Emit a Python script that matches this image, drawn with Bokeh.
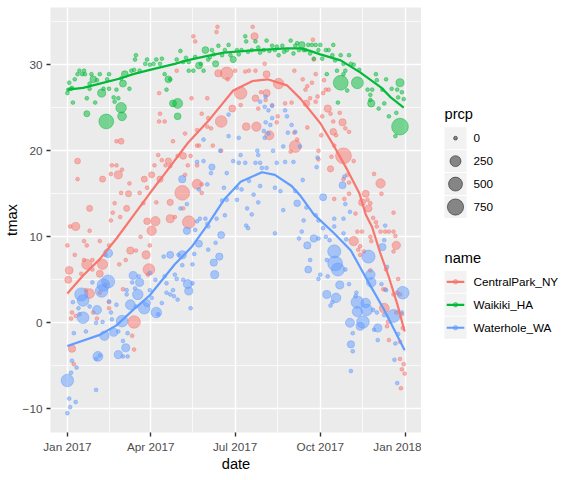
import numpy as np

from bokeh.plotting import figure
from bokeh.models import ColumnDataSource, Range1d, FixedTicker, DatetimeTickFormatter
from bokeh.layouts import row
from bokeh.core.properties import value
from bokeh.embed import file_html
from bokeh.resources import INLINE

# ---- data ----
# day = days since 2017-01-01, tmax in deg C, prcp in tenths of mm
start_date = "2017-01-01"

cp_day = [100, 99, 99, 105, 114, 53, 58, 11, 11, 48,
          53, 55, 59, 47, 38, 67, 58, 66, 78, 83,
          86, 91, 94, 98, 102, 106, 109, 111, 100, 96,
          111, 82, 51, 24, 49, 64, 3, 9, 24, 57,
          47, 86, 95, 91, 79, 111, 0, 8, 18, 21,
          35, 45, 68, 74, 85, 89, 18, 21, 27, 38,
          27, 56, 63, 2, 1, 15, 35, 88, 87, 20,
          24, 41, 35, 60, 45, 72, 5, 9, 4, 28,
          32, 45, 70, 72, 5, 7, 136, 138, 162, 161,
          200, 202, 118, 134, 151, 163, 172, 173, 181, 187,
          192, 196, 203, 213, 215, 228, 203, 209, 215, 214,
          221, 206, 178, 187, 235, 242, 245, 145, 151, 152,
          140, 166, 155, 193, 204, 218, 226, 227, 245, 246,
          241, 248, 127, 140, 142, 157, 166, 133, 125, 119,
          130, 127, 140, 140, 145, 145, 124, 125, 131, 116,
          265, 266, 259, 264, 268, 254, 257, 268, 277, 279,
          282, 276, 270, 281, 258, 262, 294, 275, 284, 287,
          297, 300, 304, 287, 290, 274, 259, 271, 288, 298,
          309, 285, 284, 302, 298, 271, 331, 338, 339, 304,
          299, 288, 322, 324, 327, 318, 325, 352, 304, 311,
          330, 333, 334, 338, 343, 347, 352, 354, 327, 313,
          318, 309, 316, 328, 355, 352, 314, 316, 320, 327,
          344, 357, 341, 343, 356, 359, 352, 342, 355, 361,
          362, 346, 345, 347, 359, 359, 363, 361, 364, 360]
cp_tmax = [24.3, 26.7, 23.4, 23.4, 21.1, 21.1, 21.1, 18.8, 16.7, 18.3,
           18.3, 17.2, 17.8, 17.3, 16.7, 16.2, 15.1, 15.0, 15.1, 16.7,
           15.7, 17.2, 18.3, 19.5, 18.9, 18.3, 18.8, 18.2, 16.7, 14.0,
           14.0, 13.9, 13.9, 13.3, 12.8, 13.3, 11.2, 11.2, 10.7, 12.3,
           11.9, 11.8, 11.8, 10.7, 10.0, 12.1, 9.0, 7.9, 9.5, 9.0,
           9.5, 9.0, 8.4, 8.4, 7.9, 9.0, 7.3, 6.8, 7.3, 6.8,
           6.2, 6.8, 7.3, 6.1, 5.0, 5.7, 5.7, 6.2, 5.6, 3.8,
           3.4, 4.4, 3.5, 3.9, 2.4, 0.1, 1.2, 0.8, 0.5, 1.2,
           0.5, 1.7, -1.5, -3.1, -3.0, -4.8, 33.3, 32.7, 34.4, 33.8,
           34.4, 33.3, 29.3, 26.1, 26.1, 29.0, 29.0, 28.3, 29.3, 26.7,
           29.2, 29.3, 29.3, 30.1, 28.9, 27.8, 26.1, 26.8, 26.7, 25.9,
           25.3, 24.9, 24.9, 25.3, 25.5, 25.6, 29.3, 24.3, 22.8, 23.8,
           22.4, 23.4, 22.6, 22.8, 22.8, 21.8, 23.3, 24.0, 22.1, 20.5,
           19.9, 21.3, 22.0, 20.6, 20.6, 20.6, 20.0, 19.4, 19.4, 19.4,
           18.3, 17.2, 18.3, 16.1, 16.1, 15.1, 15.1, 13.3, 11.7, 12.3,
           32.9, 30.6, 27.5, 27.9, 28.9, 28.3, 27.1, 25.7, 28.2, 27.1,
           27.1, 26.7, 26.3, 24.9, 25.5, 26.1, 24.4, 24.0, 24.3, 23.4,
           23.3, 22.6, 22.2, 22.2, 21.8, 21.8, 22.7, 20.0, 20.6, 19.4,
           18.8, 19.3, 17.9, 17.2, 16.7, 19.0, 17.3, 16.2, 15.0, 15.0,
           14.4, 14.4, 15.0, 14.3, 13.9, 14.0, 13.3, 12.8, 16.3, 12.7,
           12.2, 11.7, 11.2, 10.6, 10.6, 10.6, 10.6, 10.1, 10.0, 10.6,
           10.6, 9.5, 8.9, 9.5, 9.0, 8.3, 8.5, 7.9, 8.3, 6.1,
           6.2, 5.1, 3.9, 3.9, 3.5, 3.3, 3.3, 1.7, 1.2, 1.0,
           -0.6, 0.1, -0.4, -2.0, -2.2, -4.2, -4.8, -5.4, -5.9, -7.6]
cp_prcp = [0, 0, 0, 0, 0, 0, 20, 20, 0, 0,
           0, 90, 0, 0, 25, 0, 0, 25, 0, 25,
           0, 25, 0, 0, 0, 0, 30, 0, 30, 0,
           30, 0, 0, 25, 0, 25, 0, 90, 0, 0,
           0, 40, 150, 150, 0, 90, 0, 0, 0, 0,
           0, 0, 60, 0, 90, 0, 0, 200, 0, 200,
           0, 0, 0, 80, 50, 0, 50, 300, 0, 0,
           170, 0, 0, 0, 0, 370, 0, 0, 0, 0,
           0, 0, 0, 0, 60, 0, 0, 0, 0, 0,
           0, 60, 0, 0, 0, 60, 370, 0, 0, 370,
           0, 0, 0, 0, 50, 220, 40, 0, 60, 0,
           0, 0, 50, 0, 0, 0, 0, 0, 0, 0,
           0, 300, 0, 70, 150, 140, 0, 0, 0, 320,
           0, 0, 0, 0, 0, 0, 0, 0, 40, 0,
           0, 0, 0, 180, 0, 0, 585, 0, 380, 0,
           0, 0, 0, 0, 0, 0, 0, 0, 0, 0,
           0, 0, 0, 60, 40, 0, 0, 0, 0, 0,
           60, 0, 0, 40, 0, 0, 0, 0, 0, 700,
           0, 0, 30, 0, 0, 0, 0, 150, 0, 0,
           0, 0, 50, 0, 0, 50, 50, 0, 0, 0,
           0, 0, 0, 0, 0, 0, 0, 0, 0, 0,
           0, 150, 0, 0, 100, 0, 0, 0, 0, 0,
           0, 0, 0, 0, 0, 0, 0, 180, 0, 0,
           0, 0, 0, 0, 0, 0, 0, 0, 0, 0]

wk_day = [0, 2, 4, 8, 6, 11, 13, 16, 18, 19,
          21, 21, 24, 24, 26, 28, 30, 32, 35, 37,
          39, 42, 43, 45, 45, 50, 51, 53, 55, 58,
          59, 58, 60, 62, 67, 69, 72, 74, 73, 78,
          84, 86, 89, 93, 96, 100, 102, 105, 107, 109,
          111, 114, 1, 5, 118, 122, 125, 131, 131, 136,
          142, 147, 149, 144, 152, 156, 160, 163, 167, 170,
          174, 179, 183, 188, 192, 193, 199, 203, 206, 212,
          215, 221, 224, 228, 232, 237, 241, 246, 250, 119,
          119, 128, 138, 154, 158, 176, 185, 195, 208, 218,
          226, 234, 244, 248, 253, 255, 260, 264, 268, 273,
          257, 262, 271, 279, 282, 287, 286, 266, 275, 295,
          304, 289, 298, 306, 309, 291, 300, 315, 298, 280,
          295, 313, 333, 334, 344, 359, 324, 329, 340, 350,
          356, 361, 327, 327, 328, 336, 342, 347, 355, 359,
          354, 363, 357, 292, 302]
wk_tmax = [26.7, 27.9, 27.2, 28.3, 25.6, 28.9, 29.3, 28.9, 29.3, 28.9,
           26.1, 24.3, 27.8, 27.2, 28.9, 28.3, 25.6, 28.2, 28.9, 26.7,
           27.2, 23.4, 28.3, 28.9, 27.2, 26.2, 25.7, 27.1, 26.1, 25.0,
           24.0, 28.4, 27.8, 28.9, 27.2, 29.3, 29.4, 31.1, 30.6, 29.3,
           30.1, 30.6, 30.0, 30.1, 30.6, 30.1, 30.7, 28.9, 27.1, 28.3,
           28.3, 25.5, 27.1, 27.3, 30.6, 31.6, 30.3, 30.3, 29.3, 29.3,
           29.9, 29.3, 31.7, 30.1, 30.6, 31.7, 30.1, 32.2, 31.1, 31.7,
           32.3, 30.6, 31.7, 31.7, 33.3, 32.7, 31.7, 32.7, 32.0, 31.7,
           32.8, 32.2, 31.7, 31.1, 32.2, 31.7, 32.8, 32.2, 31.7, 25.5,
           24.0, 30.8, 30.9, 30.9, 31.2, 31.1, 31.2, 31.5, 31.4, 31.6,
           32.1, 31.5, 31.3, 32.5, 32.3, 31.7, 32.3, 32.3, 32.3, 32.3,
           31.7, 31.3, 31.7, 31.7, 31.7, 32.3, 31.1, 30.7, 30.7, 31.1,
           31.1, 30.5, 30.1, 30.1, 30.0, 29.3, 29.3, 29.4, 28.9, 28.9,
           27.9, 27.9, 28.9, 28.2, 28.3, 27.9, 27.1, 27.1, 27.1, 27.2,
           27.1, 26.8, 26.5, 25.9, 25.5, 24.9, 25.5, 24.0, 24.4, 22.8,
           21.7, 26.0, 26.2, 25.6, 27.0]
wk_prcp = [0, 0, 0, 0, 0, 0, 0, 0, 0, 0,
           0, 25, 0, 0, 0, 44, 0, 0, 0, 90,
           0, 585, 0, 0, 0, 0, 0, 0, 0, 220,
           120, 0, 50, 44, 0, 0, 0, 0, 0, 0,
           0, 0, 0, 0, 0, 0, 0, 0, 0, 44,
           0, 50, 0, 0, 0, 0, 0, 0, 0, 0,
           44, 0, 44, 0, 0, 0, 30, 0, 0, 0,
           0, 30, 0, 0, 0, 0, 0, 0, 0, 0,
           0, 0, 0, 0, 0, 0, 0, 0, 0, 185,
           44, 0, 0, 0, 0, 0, 0, 0, 0, 0,
           0, 0, 0, 0, 40, 0, 0, 0, 0, 0,
           0, 0, 0, 0, 0, 0, 0, 0, 0, 0,
           0, 0, 0, 0, 0, 0, 0, 0, 0, 0,
           585, 320, 0, 0, 0, 90, 0, 0, 0, 0,
           0, 0, 0, 0, 60, 0, 0, 0, 0, 820,
           0, 0, 0, 0, 0]

wh_day = [44, 41, 71, 78, 70, 64, 73, 77, 76, 89,
          89, 95, 104, 105, 111, 107, 111, 114, 44, 37,
          39, 15, 17, 27, 6, 12, 17, 13, 24, 32,
          31, 38, 45, 47, 48, 53, 59, 64, 68, 74,
          83, 86, 96, 98, 91, 102, 107, 115, 7, 20,
          40, 50, 55, 60, 65, 33, 35, 31, 55, 63,
          65, 60, 5, 10, 0, 4, 31, 2, 9, 3,
          0, 214, 208, 213, 217, 221, 221, 214, 219, 212,
          217, 213, 174, 235, 237, 242, 246, 238, 233, 174,
          185, 147, 165, 205, 206, 187, 222, 124, 140, 147,
          156, 155, 172, 179, 185, 192, 203, 208, 210, 215,
          226, 235, 244, 142, 151, 169, 183, 188, 196, 208,
          224, 230, 246, 122, 129, 167, 172, 183, 194, 201,
          206, 233, 248, 143, 149, 140, 129, 138, 151, 152,
          161, 170, 166, 142, 160, 152, 137, 124, 120, 124,
          135, 164, 158, 159, 116, 118, 125, 130, 135, 131,
          119, 133, 193, 195, 199, 224, 250, 251, 270, 269,
          254, 297, 299, 276, 258, 300, 305, 255, 271, 268,
          288, 298, 288, 276, 253, 266, 259, 271, 279, 283,
          298, 301, 288, 289, 292, 280, 262, 260, 273, 271,
          281, 300, 294, 304, 325, 327, 328, 339, 344, 342,
          343, 340, 345, 280, 290, 286, 284, 313, 311, 322,
          312, 323, 313, 319, 330, 334, 352, 362, 361, 305,
          316, 331, 335, 342, 357, 308, 354, 335, 306, 308,
          353, 306, 356]
wh_tmax = [8.1, 7.9, 5.5, 4.7, 4.7, 3.8, 4.0, 5.4, 3.3, 5.8,
           3.8, 5.0, 7.7, 5.4, 7.9, 4.6, 3.3, 3.8, 4.8, 3.7,
           4.4, 3.3, 2.6, 4.7, 2.4, 1.7, 0.6, 1.0, 1.9, 1.5,
           0.0, 0.1, 2.5, 1.2, 0.4, 2.1, 0.2, 3.3, 2.1, 1.9,
           1.7, 2.3, 1.2, 1.0, 2.9, 2.3, 3.5, 3.1, -1.2, -1.0,
           -1.5, -1.1, -1.0, -2.1, -1.2, -3.9, -3.8, -4.2, -3.7, -2.9,
           -3.9, -3.9, -4.4, -5.2, -6.7, -5.8, -7.8, -8.8, -9.2, -9.8,
           -10.5, 26.3, 25.7, 25.1, 24.7, 25.2, 23.8, 23.3, 23.0, 22.3,
           22.0, 21.5, 24.2, 24.7, 24.0, 23.0, 22.2, 22.1, 20.5, 21.7,
           21.5, 21.3, 20.0, 20.0, 19.5, 19.5, 20.0, 16.7, 18.7, 18.8,
           18.1, 17.4, 17.4, 18.8, 18.6, 18.6, 18.6, 18.6, 18.0, 18.0,
           18.6, 18.7, 18.7, 15.5, 16.1, 15.7, 15.7, 15.5, 16.5, 15.9,
           15.7, 15.3, 15.3, 13.3, 13.8, 14.2, 14.3, 14.3, 13.3, 14.9,
           14.0, 13.1, 13.9, 12.1, 12.1, 11.8, 10.7, 10.8, 11.5, 11.2,
           12.1, 12.5, 10.2, 9.2, 9.3, 8.5, 8.0, 7.9, 7.9, 6.7,
           6.8, 7.7, 7.0, 5.6, 5.6, 5.1, 5.0, 4.5, 4.6, 3.7,
           2.7, 1.7, 11.3, 11.0, 12.6, 10.4, 9.8, 20.5, 19.2, 18.1,
           16.6, 16.0, 17.0, 14.6, 13.4, 13.8, 12.9, 11.9, 11.9, 12.5,
           12.1, 12.1, 11.2, 11.0, 10.6, 9.8, 9.0, 9.8, 10.0, 9.6,
           10.4, 9.7, 8.3, 6.9, 6.2, 7.3, 7.3, 6.2, 5.6, 5.1,
           5.4, 6.2, 4.4, 4.5, 7.7, 5.6, 4.7, 4.5, 3.8, 9.6,
           11.3, 8.8, 6.5, 3.3, 2.9, 2.4, 2.0, 2.4, 3.1, 2.3,
           3.5, 1.5, 1.3, 0.1, 1.5, 1.2, 0.8, 3.5, 1.2, 0.0,
           -0.4, -0.8, -0.6, 0.9, -1.3, -1.2, -2.4, -2.0, -2.5, -3.3,
           -4.3, -5.6, -7.0]
wh_prcp = [130, 0, 90, 90, 0, 0, 0, 0, 220, 0,
           0, 0, 0, 0, 50, 0, 0, 0, 420, 370,
           370, 420, 300, 0, 0, 0, 300, 0, 0, 130,
           0, 0, 0, 0, 0, 0, 300, 0, 180, 0,
           300, 60, 220, 0, 0, 0, 0, 0, 0, 0,
           160, 90, 0, 0, 0, 180, 0, 0, 90, 90,
           0, 0, 0, 0, 370, 0, 0, 0, 0, 0,
           0, 0, 0, 0, 0, 0, 0, 0, 0, 0,
           0, 0, 0, 0, 0, 0, 0, 0, 0, 0,
           0, 0, 0, 0, 0, 0, 0, 60, 0, 0,
           30, 0, 0, 0, 0, 0, 0, 0, 0, 0,
           0, 0, 0, 0, 0, 0, 0, 0, 0, 0,
           0, 0, 0, 0, 0, 0, 0, 0, 0, 0,
           0, 0, 40, 0, 0, 0, 60, 0, 0, 0,
           0, 0, 50, 50, 0, 0, 0, 90, 0, 0,
           0, 60, 60, 90, 0, 0, 0, 130, 0, 90,
           0, 0, 0, 0, 0, 0, 0, 0, 0, 0,
           0, 50, 0, 50, 0, 0, 0, 0, 0, 0,
           0, 0, 0, 0, 0, 60, 60, 0, 0, 0,
           0, 0, 420, 585, 420, 0, 0, 50, 0, 0,
           0, 0, 90, 0, 420, 160, 160, 0, 0, 0,
           0, 60, 0, 90, 160, 0, 0, 370, 0, 160,
           0, 300, 200, 370, 0, 0, 420, 370, 0, 130,
           90, 0, 90, 0, 0, 0, 0, 0, 60, 0,
           0, 0, 0]

# smooth curves (as drawn in the reference)
cp_smooth_day = [0, 17, 35, 53, 75, 90, 107, 130, 154, 179, 200, 216,
                 237, 252, 273, 288, 302, 315, 322, 329, 338, 347, 356, 364]
cp_smooth = [3.4, 5.5, 7.4, 9.8, 13.0, 15.2, 17.6, 20.9, 23.7, 27.0, 28.1, 28.3,
             27.6, 26.0, 23.2, 20.5, 17.8, 15.1, 12.6, 11.1, 8.0, 5.3, 2.2, -1.0]
wk_smooth_day = [0, 17, 35, 57, 71, 89, 116, 129, 150, 169,
                 205, 237, 252, 262, 273, 295, 316, 338, 349, 363]
wk_smooth = [27.1, 27.3, 27.8, 28.4, 28.9, 29.4, 30.1, 30.5, 31.0, 31.4,
             31.7, 31.9, 31.9, 31.6, 31.2, 30.5, 29.1, 27.4, 26.2, 25.0]
wh_smooth_day = [0, 35, 53, 71, 89, 116, 134, 152, 169, 187,
                 210, 224, 242, 252, 266, 287, 306, 324, 342, 364]
wh_smooth = [-2.7, -1.4, -0.3, 1.5, 3.2, 6.8, 8.8, 11.5, 14.3, 16.4,
             17.5, 17.2, 15.9, 14.7, 12.6, 10.5, 8.4, 4.9, 1.5, -3.2]

names = ["CentralPark_NY", "Waikiki_HA", "Waterhole_WA"]
colors = ["#F8766D", "#00BA38", "#619CFF"]

x_tick_dates = ["2017-01-01", "2017-04-01", "2017-07-01", "2017-10-01", "2018-01-01"]
x_tick_labels_fmt = "%b %Y"
y_ticks = [-10, 0, 10, 20, 30]
prcp_breaks = [0, 250, 500, 750]

FONT = "Liberation Sans"
DAY_MS = 86400000.0
ms0 = (np.datetime64(start_date) - np.datetime64("1970-01-01")) / np.timedelta64(1, "ms")


def day_to_ms(days):
    return ms0 + np.asarray(days, dtype=float) * DAY_MS


def date_to_ms(d):
    return (np.datetime64(d) - np.datetime64("1970-01-01")) / np.timedelta64(1, "ms")


# area scale for point size (like scale_size)
D_MIN, D_MAX, P_MAX = 3.8, 18.0, 980.0


def prcp_size(p):
    return D_MIN + (D_MAX - D_MIN) * np.sqrt(np.asarray(p, dtype=float) / P_MAX)


stations = [
    (cp_day, cp_tmax, cp_prcp, cp_smooth_day, cp_smooth),
    (wk_day, wk_tmax, wk_prcp, wk_smooth_day, wk_smooth),
    (wh_day, wh_tmax, wh_prcp, wh_smooth_day, wh_smooth),
]

# ranges with ggplot's 5% expansion
all_days = np.concatenate([np.asarray(s[0], float) for s in stations])
all_t = np.concatenate([np.asarray(s[1], float) for s in stations])
dx = (all_days.max() - all_days.min()) * 0.05
dy = (all_t.max() - all_t.min()) * 0.05
x_range = Range1d(day_to_ms(all_days.min() - dx), day_to_ms(all_days.max() + dx))
y_range = Range1d(all_t.min() - dy, all_t.max() + dy)

# ticks and minor (grid) ticks at midpoints
x_major = [date_to_ms(d) for d in x_tick_dates]
x_minor = [(a + b) / 2 for a, b in zip(x_major[:-1], x_major[1:])]
y_step = y_ticks[1] - y_ticks[0]
y_minor = [t + y_step / 2 for t in [y_ticks[0] - y_step] + y_ticks]
y_minor = [t for t in y_minor if y_range.start <= t <= y_range.end]
xticker = FixedTicker(ticks=x_major, minor_ticks=x_minor)
yticker = FixedTicker(ticks=y_ticks, minor_ticks=y_minor)

H = 474
TOP, BOTTOM = 7, 41          # borders around the plotting panel
MAIN_W, LEG_W = 421, 139

p = figure(width=MAIN_W, height=H, x_axis_type="datetime",
           x_range=x_range, y_range=y_range,
           x_axis_label="date", y_axis_label="tmax",
           output_backend="svg", toolbar_location=None,
           min_border_left=50, min_border_right=0,
           min_border_top=TOP, min_border_bottom=BOTTOM)
p.background_fill_color = "#EBEBEB"
p.border_fill_color = "white"
p.outline_line_color = None

p.xaxis.ticker = xticker
p.yaxis.ticker = yticker
p.xgrid.ticker = xticker
p.ygrid.ticker = yticker
fmt = x_tick_labels_fmt
p.xaxis.formatter = DatetimeTickFormatter(days=fmt, months=fmt, years=fmt, hours=fmt,
                                          hourmin=fmt, minutes=fmt)

for ax in [p.xaxis[0], p.yaxis[0]]:
    ax.axis_line_color = None
    ax.major_tick_line_color = "#333333"
    ax.major_tick_line_width = 1.4
    ax.major_tick_out = 4
    ax.major_tick_in = 0
    ax.minor_tick_line_color = None
    ax.major_label_text_color = "#4D4D4D"
    ax.major_label_text_font = FONT
    ax.major_label_text_font_size = "8.8pt"
    ax.axis_label_text_font = FONT
    ax.axis_label_text_font_size = "11pt"
    ax.axis_label_text_font_style = "normal"
    ax.axis_label_text_color = "black"
p.xaxis.major_label_standoff = 3
p.xaxis.axis_label_standoff = 0
p.yaxis.major_label_standoff = 4
p.yaxis.axis_label_standoff = 0

for g in [p.xgrid[0], p.ygrid[0]]:
    g.grid_line_color = "white"
    g.grid_line_width = 1.4
    g.minor_grid_line_color = "white"
    g.minor_grid_line_width = 0.7

# points
for (days, tmax, prcp, sd, sv), color in zip(stations, colors):
    src = ColumnDataSource(dict(x=day_to_ms(days), y=tmax, s=prcp_size(prcp)))
    p.scatter("x", "y", size="s", source=src, fill_color=color, fill_alpha=0.5,
              line_color=color, line_alpha=0.5, line_width=0.9)

# smooth lines on top
for (days, tmax, prcp, sd, sv), color in zip(stations, colors):
    p.line(x=day_to_ms(sd), y=sv, line_color=color, line_width=2.2)

# ---- legend panel (its frame is aligned with the main panel, coords = pixels) ----
lg = figure(width=LEG_W, height=H,
            x_range=Range1d(MAIN_W, MAIN_W + LEG_W), y_range=Range1d(H - BOTTOM, TOP),
            output_backend="svg", toolbar_location=None,
            x_axis_location=None, y_axis_location=None,
            min_border_left=0, min_border_right=0,
            min_border_top=TOP, min_border_bottom=BOTTOM)
lg.grid.visible = False
lg.outline_line_color = None
lg.background_fill_color = "white"
lg.border_fill_color = "white"

KEY_X, KEY_W, KEY_STEP, TXT_X = 444, 22, 23, 473
size_title_y, name_title_y = 114, 258


def key_rows(title_y, n):
    return [title_y + 24 + i * KEY_STEP for i in range(n)]


title_kw = dict(text_font=value(FONT), text_font_size="11pt", text_color="black",
                text_baseline="middle", text_align="left")
label_kw = dict(text_font=value(FONT), text_font_size="8.8pt", text_color="black",
                text_baseline="middle", text_align="left")

# size legend
sy = key_rows(size_title_y, len(prcp_breaks))
lg.text(x=[KEY_X], y=[size_title_y], text=["prcp"], **title_kw)
lg.rect(x=[KEY_X + KEY_W / 2] * len(sy), y=sy, width=KEY_W, height=KEY_W,
        fill_color="#F2F2F2", line_color=None)
lg.scatter(x=[KEY_X + KEY_W / 2] * len(sy), y=sy, size=prcp_size(prcp_breaks),
           fill_color="black", fill_alpha=0.45, line_color="black", line_alpha=0.5,
           line_width=0.9)
lg.text(x=[TXT_X] * len(sy), y=sy, text=[str(b) for b in prcp_breaks], **label_kw)

# colour legend
ny = key_rows(name_title_y, len(names))
lg.text(x=[KEY_X], y=[name_title_y], text=["name"], **title_kw)
lg.rect(x=[KEY_X + KEY_W / 2] * len(ny), y=ny, width=KEY_W, height=KEY_W,
        fill_color="#F2F2F2", line_color=None)
lg.segment(x0=[KEY_X + 2.2] * len(ny), x1=[KEY_X + KEY_W - 2.2] * len(ny), y0=ny, y1=ny,
           line_color=colors, line_width=2.2)
lg.scatter(x=[KEY_X + KEY_W / 2] * len(ny), y=ny, size=4.5, fill_color=colors,
           fill_alpha=0.5, line_color=colors, line_alpha=0.5)
lg.text(x=[TXT_X] * len(ny), y=ny, text=names, **label_kw)

layout = row(p, lg)
open("out.html", "w").write(file_html(layout, INLINE))
